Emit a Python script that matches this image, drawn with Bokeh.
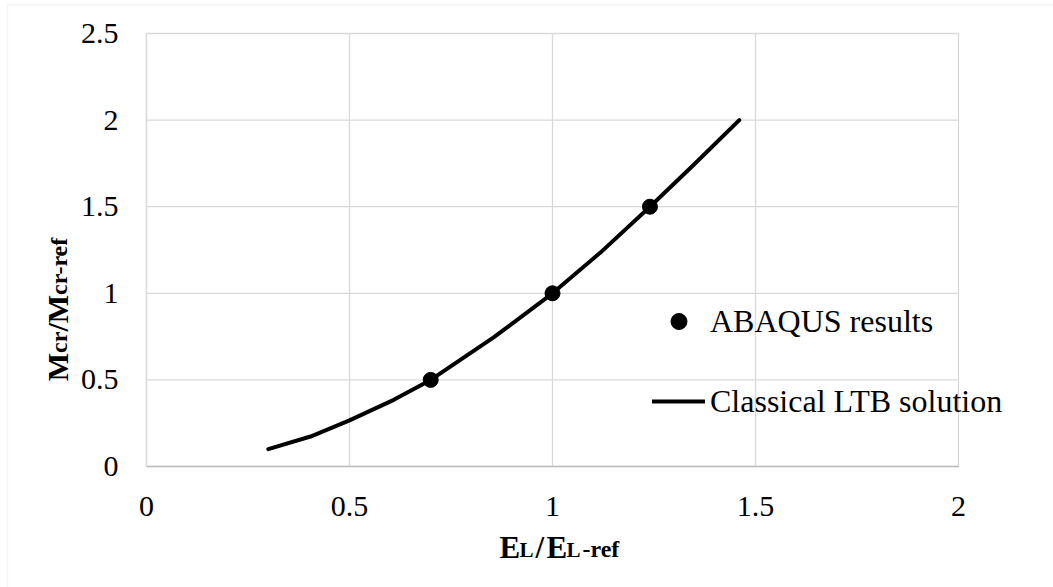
import math
from bokeh.plotting import figure
from bokeh.models import (Range1d, FixedTicker, Legend, LegendItem, Label, BoxAnnotation)
from bokeh.embed import file_html
from bokeh.resources import INLINE

# ---- data ----
curve_x = [0.30, 0.404, 0.50, 0.609, 0.70, 0.855, 1.00, 1.118, 1.24, 1.348, 1.46]
curve_y = [0.10, 0.173, 0.266, 0.385, 0.50, 0.745, 1.00, 1.235, 1.50, 1.742, 2.00]
abaqus_x = [0.70, 1.00, 1.24]
abaqus_y = [0.50, 1.00, 1.50]
x_ticks = [0, 0.5, 1, 1.5, 2]
x_tick_labels = ["0", "0.5", "1", "1.5", "2"]
y_ticks = [0, 0.5, 1, 1.5, 2, 2.5]
y_tick_labels = ["0", "0.5", "1", "1.5", "2", "2.5"]
series_names = ["ABAQUS results", "Classical LTB solution"]

W, H = 1053, 587
FL, FR, FT, FB = 146, 958, 33, 466   # plot-area edges in pixels
X0, X1, Y0, Y1 = 0.0, 2.0, 0.0, 2.5

def px2x(px):
    return X0 + (px - FL) / (FR - FL) * (X1 - X0)

def py2y(py):
    return Y0 + (FB - py) / (FB - FT) * (Y1 - Y0)

FONT = "Liberation Serif"
GRID = "#d9d9d9"

p = figure(width=W, height=H, output_backend="svg", toolbar_location=None,
           x_range=Range1d(px2x(0), px2x(W)), y_range=Range1d(py2y(H), py2y(0)),
           min_border=0, min_border_left=0, min_border_right=0,
           min_border_top=0, min_border_bottom=0)
p.background_fill_color = "white"
p.border_fill_color = "white"
p.outline_line_color = None
p.grid.visible = False

for ax, ticks, labels in ((p.xaxis, x_ticks, x_tick_labels), (p.yaxis, y_ticks, y_tick_labels)):
    ax.ticker = FixedTicker(ticks=ticks)
    ax.major_label_overrides = {t: l for t, l in zip(ticks, labels)}
    ax.major_tick_line_color = None
    ax.minor_tick_line_color = None
    ax.major_label_text_font = FONT
    ax.major_label_text_font_size = "30px"
    ax.major_label_text_color = "black"
    ax.fixed_location = 0

p.xaxis.bounds = (X0, X1)
p.yaxis.bounds = (Y0, Y1)
p.xaxis.axis_line_color = "#bfbfbf"
p.xaxis.axis_line_width = 1.5
p.yaxis.axis_line_color = GRID
p.yaxis.axis_line_width = 1.3
p.xaxis.major_label_standoff = 24
p.yaxis.major_label_standoff = 22

# gridlines limited to the plot area (0..2, 0..2.5)
p.segment(x0=x_ticks, y0=[Y0] * len(x_ticks), x1=x_ticks, y1=[Y1] * len(x_ticks),
          line_color=GRID, line_width=1.3, level="underlay")
p.segment(x0=[X0] * len(y_ticks), y0=y_ticks, x1=[X1] * len(y_ticks), y1=y_ticks,
          line_color=GRID, line_width=1.3, level="underlay")

line_r = p.line(curve_x, curve_y, line_color="black", line_width=4,
                line_join="round", line_cap="round")
pts_r = p.scatter(abaqus_x, abaqus_y, marker="circle", size=15,
                  fill_color="black", line_color="black")

legend = Legend(items=[LegendItem(label=series_names[0], renderers=[pts_r]),
                       LegendItem(label=series_names[1], renderers=[line_r])],
                location=(652, H - 421), orientation="vertical",
                glyph_width=53, glyph_height=40, label_height=40, spacing=40,
                label_standoff=5, padding=0, margin=0,
                label_text_font=FONT, label_text_font_size="32px", label_text_color="black",
                background_fill_alpha=0, border_line_alpha=0)
p.add_layout(legend, "center")

# outer chart-area border (left and top visible)
p.add_layout(BoxAnnotation(left=px2x(7), top=py2y(4.5), right=px2x(W + 20), bottom=py2y(H + 20),
                           fill_alpha=0, line_color=GRID, line_width=1.3))

MID = 0.3375  # baseline offset below the em-box middle, in em

def hpiece(text, px, base_py, size):
    p.add_layout(Label(x=px2x(px), y=py2y(base_py - MID * size), text=text,
                       text_font=FONT, text_font_size=f"{size}px", text_font_style="bold",
                       text_color="black", text_align="left", text_baseline="middle"))

def vpiece(text, base_px, py, size):
    p.add_layout(Label(x=px2x(base_px - MID * size), y=py2y(py), text=text, angle=math.pi / 2,
                       text_font=FONT, text_font_size=f"{size}px", text_font_style="bold",
                       text_color="black", text_align="left", text_baseline="middle"))

# x axis title: E L / E L-ref (mixed sizes, shared baseline)
bx = 557
hpiece("E", 499, bx, 31)
hpiece("L", 519, bx, 21)
hpiece("/", 535, bx, 31)
hpiece("E", 546, bx, 31)
hpiece("L", 566, bx, 21)
hpiece("-ref", 582, bx, 24)

# y axis title: M cr / M cr-ref (rotated, shared baseline)
by = 67
vpiece("M", by, 380.7, 30)
vpiece("cr", by, 352.4, 24)
vpiece("/", by, 331.1, 30)
vpiece("M", by, 322.8, 30)
vpiece("cr-ref", by, 294.5, 24)

open("out.html", "w").write(file_html(p, INLINE))
